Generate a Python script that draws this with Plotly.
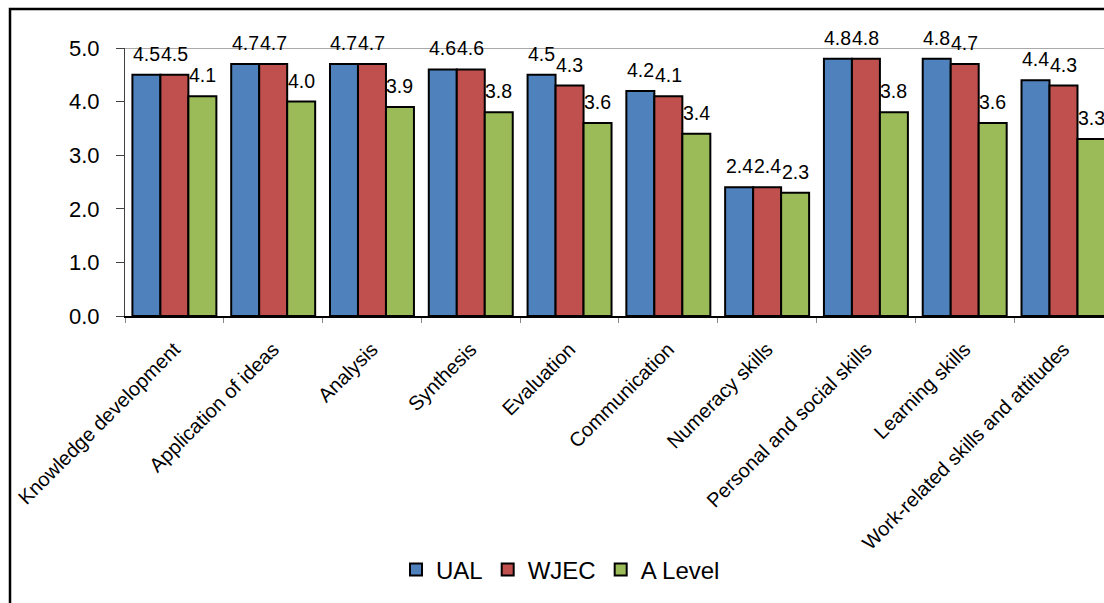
import plotly.graph_objects as go

categories = [
    "Knowledge development", "Application of ideas", "Analysis", "Synthesis",
    "Evaluation", "Communication", "Numeracy skills",
    "Personal and social skills", "Learning skills",
    "Work-related skills and attitudes",
]
ual = [4.5, 4.7, 4.7, 4.6, 4.5, 4.2, 2.4, 4.8, 4.8, 4.4]
wjec = [4.5, 4.7, 4.7, 4.6, 4.3, 4.1, 2.4, 4.8, 4.7, 4.3]
a_level = [4.1, 4.0, 3.9, 3.8, 3.6, 3.4, 2.3, 3.8, 3.6, 3.3]

series = [("UAL", ual, "#4F81BD"), ("WJEC", wjec, "#C0504D"), ("A Level", a_level, "#9BBB59")]

FONT = "Liberation Sans, Arial, sans-serif"
W, H = 1104, 603
ML, MT, MB, MR = 125, 48, 287, 0
plot_w = W - ML - MR
plot_h = H - MT - MB

# visible x extent: the last group runs slightly past the right edge
x_lo, x_hi = -0.5, 9.41
px_per_cat = plot_w / (x_hi - x_lo)
bargap = 0.15
bar_px = px_per_cat * (1 - bargap) / 3

fig = go.Figure()
for name, vals, color in series:
    fig.add_trace(go.Bar(
        name=name, x=categories, y=vals,
        marker=dict(color=color, line=dict(color="black", width=2)),
    ))

annotations = []
for i, (name, vals, color) in enumerate(series):
    for cat, v in zip(categories, vals):
        annotations.append(dict(
            x=cat, y=v, xref="x", yref="y", text=f"{v:.1f}", showarrow=False,
            xanchor="center", yanchor="bottom", xshift=(i - 1) * bar_px, yshift=8,
            font=dict(family=FONT, size=19.5, color="black"),
        ))

def px_to_paper_x(px):
    return (px - ML) / plot_w

def px_to_paper_y(py):
    return (H - MB - py) / plot_h

shapes = [
    # top line of the plot area at 5.0
    dict(type="line", xref="paper", yref="y", x0=0, x1=1, y0=5, y1=5,
         line=dict(color="#8C8C8C", width=1.5)),
    # chart frame
    dict(type="rect", xref="paper", yref="paper",
         x0=px_to_paper_x(10), x1=px_to_paper_x(1200),
         y0=px_to_paper_y(9), y1=px_to_paper_y(700),
         line=dict(color="black", width=2.5), fillcolor="rgba(0,0,0,0)"),
]

fig.update_layout(
    width=W, height=H,
    margin=dict(l=ML, r=MR, t=MT, b=MB, pad=0),
    paper_bgcolor="white", plot_bgcolor="white",
    barmode="group", bargap=bargap, bargroupgap=0,
    font=dict(family=FONT, color="black"),
    showlegend=True,
    legend=dict(orientation="h", x=px_to_paper_x(396), xanchor="left",
                y=px_to_paper_y(570), yanchor="middle",
                font=dict(family=FONT, size=24), bgcolor="rgba(0,0,0,0)"),
    annotations=annotations,
    shapes=shapes,
)
fig.update_xaxes(
    range=[x_lo, x_hi], showline=True, linecolor="black", linewidth=1.5,
    ticks="outside", tickson="boundaries", ticklen=5, tickcolor="#888888",
    tickangle=-45, tickfont=dict(family=FONT, size=20), showgrid=False,
    ticklabelstandoff=12,
)
fig.update_yaxes(
    range=[0, 5], dtick=1, tickformat=".1f", showline=True, linecolor="#404040",
    linewidth=1, ticks="outside", ticklen=8, tickcolor="#404040",
    tickfont=dict(family=FONT, size=22), showgrid=False, zeroline=False,
    ticklabelstandoff=12,
)

fig.write_html("out.html")
